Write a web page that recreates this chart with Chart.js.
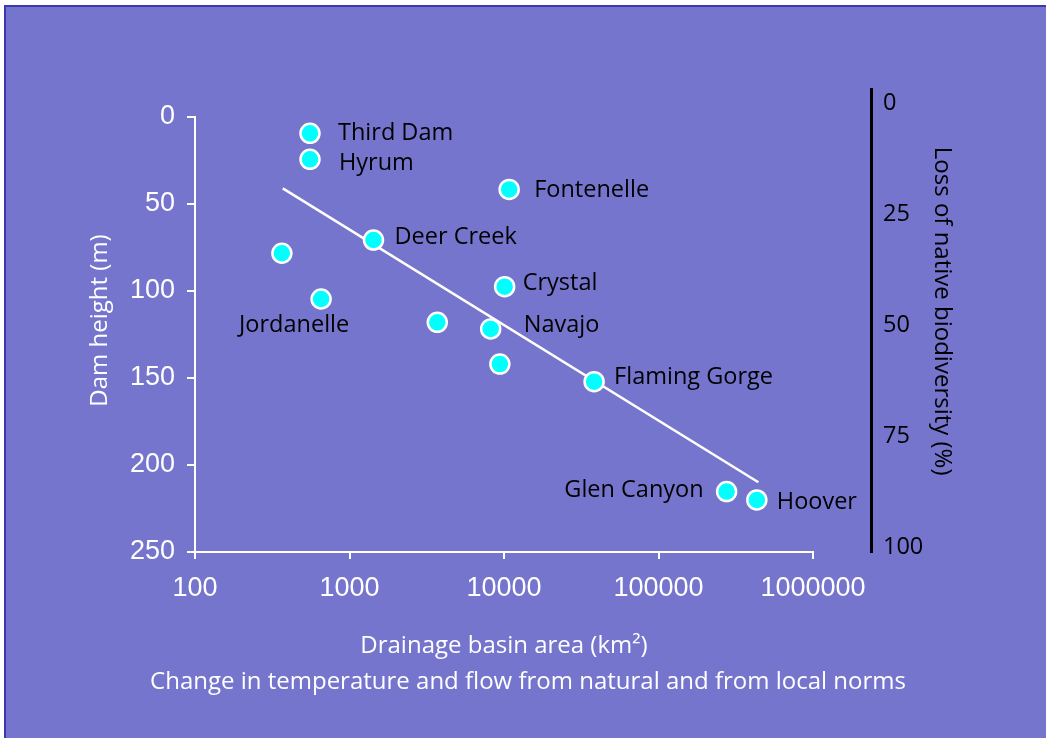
<!DOCTYPE html>
<html>
<head>
<meta charset="utf-8">
<script src="https://cdn.jsdelivr.net/npm/chart.js@4.4.1/dist/chart.umd.min.js"></script>
<style>
  html, body { margin: 0; padding: 0; background: #ffffff; width: 1046px; height: 738px; overflow: hidden; }
  #frame { position: absolute; left: 4px; top: 5px; width: 1042px; height: 733px; box-sizing: border-box;
           background: #7675CE; border-top: 2px solid #3A3AAE; border-left: 2px solid #3A3AAE; }
  #c { position: absolute; left: 0; top: 0; }
</style>
</head>
<body>
<div id="frame"></div>
<canvas id="c" width="1046" height="738"></canvas>
<script>
// ---- data ----
const damNames   = ['Third Dam', 'Hyrum', 'Fontenelle', 'Deer Creek', '', 'Jordanelle', 'Crystal', '', 'Navajo', '', 'Flaming Gorge', 'Glen Canyon', 'Hoover'];
const basinArea  = [555, 555, 10800, 1430, 365, 655, 10100, 3700, 8200, 9400, 38300, 276000, 433000]; // km2
const damHeight  = [9.4, 24.3, 41.6, 70.7, 78.3, 104.6, 97.5, 118.0, 121.8, 142.0, 152.1, 215.3, 220.1]; // m
const trendArea  = [370, 443000];
const trendHeight = [41.0, 209.9];
const xTicks  = [100, 1000, 10000, 100000, 1000000];
const yTicks  = [0, 50, 100, 150, 200, 250];
const y2Ticks = [0, 25, 50, 75, 100];

// label placement (pixels relative to the point): [dx, dy, align]
const labelPlacement = [
  [28, 0, 'left'], [29, 4, 'left'], [25, 1, 'left'], [21, -3, 'left'], [0, 0, 'left'],
  [-27, 26, 'center'], [18, -3, 'left'], [0, 0, 'left'], [33, -4, 'left'], [0, 0, 'left'],
  [20, -4, 'left'], [-23, -1, 'right'], [20, 2, 'left']
];

const WHITE = '#ffffff';
const LABEL_FONT = { family: "'Open Sans', sans-serif", size: 23.5 };
const TITLE_FONT = { family: "'Open Sans', sans-serif", size: 24 };
const NUM_FONT = { family: "'Liberation Sans', Arial, sans-serif", size: 27 };

const pointData = basinArea.map((a, i) => ({ x: a, y: damHeight[i] }));
const trendData = trendArea.map((a, i) => ({ x: a, y: trendHeight[i] }));

const overlay = {
  id: 'overlay',
  beforeDatasetsDraw(chart) {
    // left axis stem between first and last y tick
    const { ctx, scales } = chart;
    const x = scales.x.getPixelForValue(xTicks[0]);
    const yTop = scales.y.getPixelForValue(yTicks[0]);
    const yBot = scales.y.getPixelForValue(yTicks[yTicks.length - 1]);
    ctx.save();
    ctx.strokeStyle = WHITE;
    ctx.lineWidth = 2;
    ctx.beginPath();
    ctx.moveTo(x, yTop - 1);
    ctx.lineTo(x, yBot);
    ctx.stroke();
    ctx.restore();
  },
  afterDatasetsDraw(chart) {
    const { ctx } = chart;
    const meta = chart.getDatasetMeta(1);
    ctx.save();
    ctx.font = `${LABEL_FONT.size}px ${LABEL_FONT.family}`;
    ctx.fillStyle = '#000000';
    ctx.textBaseline = 'middle';
    meta.data.forEach((el, i) => {
      const name = damNames[i];
      if (!name) return;
      const [dx, dy, align] = labelPlacement[i];
      ctx.textAlign = align;
      ctx.fillText(name, el.x + dx, el.y + dy);
    });
    ctx.restore();
  }
};

new Chart(document.getElementById('c'), {
  type: 'scatter',
  data: {
    datasets: [
      {
        label: 'trend',
        data: trendData,
        showLine: true,
        borderColor: WHITE,
        borderWidth: 2.5,
        pointRadius: 0,
        order: 2
      },
      {
        label: 'dams',
        data: pointData,
        backgroundColor: '#00FFFF',
        borderColor: WHITE,
        borderWidth: 2.5,
        pointRadius: 9.5,
        order: 1
      }
    ]
  },
  options: {
    responsive: false,
    devicePixelRatio: 1,
    animation: false,
    layout: { padding: { left: 86, right: 76, top: 89, bottom: 41.6 } },
    plugins: {
      legend: { display: false },
      tooltip: { enabled: false },
      subtitle: {
        display: true,
        position: 'bottom',
        text: 'Change in temperature and flow from natural and from local norms',
        color: WHITE,
        font: TITLE_FONT,
        padding: 0
      }
    },
    scales: {
      x: {
        type: 'logarithmic',
        position: 'bottom',
        min: xTicks[0],
        max: xTicks[xTicks.length - 1],
        afterBuildTicks: s => { s.ticks = xTicks.map(v => ({ value: v })); },
        afterFit: s => { s.height = 115.6; },
        ticks: { color: WHITE, font: NUM_FONT, padding: 13, maxRotation: 0, autoSkip: false,
                 callback: v => String(v) },
        grid: { display: true, drawOnChartArea: false, color: WHITE, lineWidth: 2, tickLength: 7 },
        border: { display: true, color: WHITE, width: 2 },
        title: { display: true, text: 'Drainage basin area (km²)', color: WHITE, font: TITLE_FONT,
                 padding: { top: 0, bottom: 7.2 } }
      },
      y: {
        type: 'linear',
        position: 'left',
        reverse: true,
        min: -16.1,
        max: 250,
        afterBuildTicks: s => { s.ticks = yTicks.map(v => ({ value: v })); },
        afterFit: s => { s.width = 109; },
        ticks: { color: WHITE, font: NUM_FONT, padding: 12, autoSkip: false },
        grid: { display: true, drawOnChartArea: false, color: WHITE, lineWidth: 2, tickLength: 8 },
        border: { display: false },
        title: { display: true, text: 'Dam height (m)', color: WHITE, font: TITLE_FONT, padding: 0 }
      },
      gap: {
        type: 'linear',
        position: 'right',
        weight: 0,
        display: true,
        afterFit: s => { s.width = 58; },
        ticks: { display: false },
        grid: { display: false },
        border: { display: false }
      },
      y2: {
        type: 'linear',
        position: 'right',
        weight: 1,
        reverse: true,
        min: -3.15,
        max: 101.13,
        afterBuildTicks: s => { s.ticks = y2Ticks.map(v => ({ value: v })); },
        afterFit: s => { s.width = 99; },
        ticks: { color: '#000000', font: LABEL_FONT, padding: 12, autoSkip: false },
        grid: { display: true, drawOnChartArea: false, drawTicks: false },
        border: { display: true, color: '#000000', width: 3 },
        title: { display: true, text: 'Loss of native biodiversity (%)   ', color: '#000000', font: TITLE_FONT,
                 padding: { top: 14, bottom: 0 } }
      }
    }
  },
  plugins: [overlay]
});
</script>
</body>
</html>
